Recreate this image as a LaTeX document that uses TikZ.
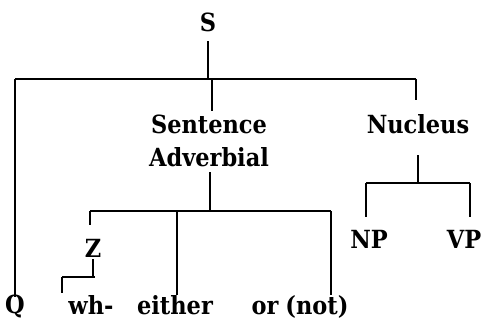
\documentclass[tikz,border=0pt]{standalone}
\usepackage{fontspec}
\setmainfont{DejaVu Serif Condensed}
\begin{document}
\begin{tikzpicture}[x=1pt,y=-1pt,
  lbl/.style={inner sep=0pt,anchor=base,font=\fontsize{25}{32}\selectfont\bfseries},
  br/.style={line width=1.4pt}]
\useasboundingbox (0,0) rectangle (485,322);
% labels
\node[lbl] (S) at (208,31) {S};
\node[lbl] (SA1) at (209,133) {Sentence};
\node[lbl] (SA2) at (209,166) {Adverbial};
\node[lbl] (Nuc) at (418,133) {Nucleus};
\node[lbl] (Q) at (15,313) {Q};
\node[lbl] (Z) at (93,257) {Z};
\node[lbl] (wh) at (91,314) {wh-};
\node[lbl] (either) at (175,314) {either};
\node[lbl] (or) at (265,314) {or};
\node[lbl] (not) at (317,314) {(not)};
\node[lbl] (NP) at (369,248) {NP};
\node[lbl] (VP) at (464,248) {VP};
% bar coordinates
\coordinate (b1L) at (15,79);
\coordinate (b1R) at (416,79);
\coordinate (b2L) at (90,211);
\coordinate (b2R) at (331,211);
\coordinate (b3L) at (366,183);
\coordinate (b3R) at (470,183);
\coordinate (zL) at (62,277);
\coordinate (zR) at (95,277);
% top level
\draw[br] (208,41) -- (208,79);
\draw[br] (b1L) -- (b1R);
\draw[br] (b1L) -- (15,297);
\draw[br] (212,79) -- (212,111);
\draw[br] (b1R) -- (416,100);
% sentence adverbial
\draw[br] (210,172) -- (210,211);
\draw[br] (b2L) -- (b2R);
\draw[br] (b2L) -- (90,225);
\draw[br] (177,211) -- (177,295);
\draw[br] (b2R) -- (331,295);
% Z
\draw[br] (93,259) -- (93,277);
\draw[br] (zL) -- (zR);
\draw[br] (zL) -- (62,293);
% nucleus
\draw[br] (418,155) -- (418,183);
\draw[br] (b3L) -- (b3R);
\draw[br] (b3L) -- (366,217);
\draw[br] (b3R) -- (470,217);
\end{tikzpicture}
\end{document}
